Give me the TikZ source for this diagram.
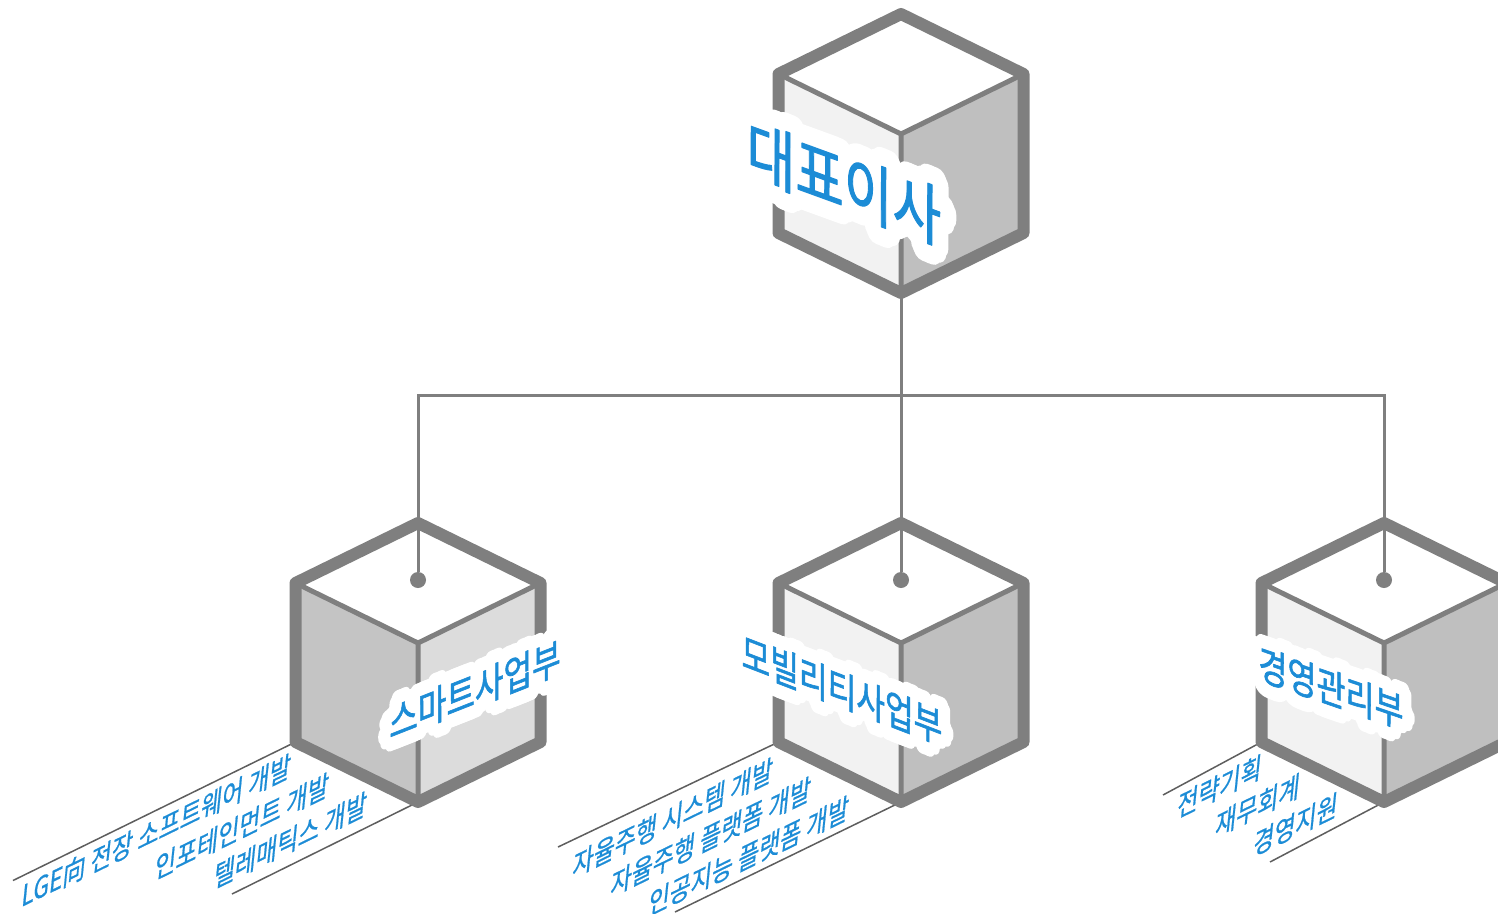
\documentclass[tikz,border=0pt]{standalone}
\usepackage{fontspec}
\setmainfont{Noto Sans CJK KR}
\newfontfamily\labelfont[FakeBold=1.6]{Noto Sans CJK KR}
\newfontfamily\halofont[FakeBold=36]{Noto Sans CJK KR}
\newfontfamily\notefont[FakeBold=0.8]{Noto Sans CJK KR}
\usepackage{xcolor}
\usetikzlibrary{backgrounds,calc}
\definecolor{OrgLine}{HTML}{7F7F7F}
\definecolor{OrgBlue}{HTML}{1C8CD6}
\definecolor{NoteLine}{HTML}{5E5E5E}
\definecolor{FaceLight}{HTML}{F2F2F2}
\definecolor{FaceDark}{HTML}{BFBFBF}
\definecolor{FaceMid}{HTML}{DCDCDC}
\definecolor{FaceShade}{HTML}{C4C4C4}
\newcommand{\CubeW}{2.45}
\newcommand{\CubeD}{1.20}
\newcommand{\CubeH}{3.18}
\tikzset{
  every picture/.style = {line join=round},
  cube edge/.style = {draw=OrgLine, line width=0.24cm, line join=round},
  cube seam/.style = {draw=OrgLine, line width=0.10cm},
  link/.style = {draw=OrgLine, line width=0.06cm, line join=miter},
  hub/.style = {circle, fill=OrgLine, inner sep=0pt, minimum size=0.32cm},
  cube label/.style = {text=OrgBlue, inner sep=0pt},
  halo/.style = {inner sep=0pt, text=white},
  big label/.style = {font=\fontsize{32}{32}\selectfont, yscale=1.12},
  dept label/.style = {font=\fontsize{19}{19}\selectfont, yscale=1.15},
  note line/.style = {draw=NoteLine, line width=0.03cm},
  note text/.style = {
    text=OrgBlue,
    font=\notefont\fontsize{14.5}{16}\selectfont,
    inner sep=0pt,
    anchor=base east,
    rotate=26,
    xslant=0.62
  },
}
% one box of the chart, given by its top corner
\newcommand{\OrgCube}[4]{%
  \begin{scope}[shift={#2}]
    \coordinate (#1-top) at (0,0);
    \coordinate (#1-ul) at (-\CubeW,-\CubeD);
    \coordinate (#1-ur) at (\CubeW,-\CubeD);
    \coordinate (#1-mid) at (0,-2*\CubeD);
    \coordinate (#1-ll) at (-\CubeW,-\CubeD-\CubeH);
    \coordinate (#1-lr) at (\CubeW,-\CubeD-\CubeH);
    \coordinate (#1-bot) at (0,-2*\CubeD-\CubeH);
  \end{scope}
  \fill[white] (#1-top) -- (#1-ur) -- (#1-mid) -- (#1-ul) -- cycle;
  \fill[#3] (#1-ul) -- (#1-mid) -- (#1-bot) -- (#1-ll) -- cycle;
  \fill[#4] (#1-mid) -- (#1-ur) -- (#1-lr) -- (#1-bot) -- cycle;
  \draw[cube seam] (#1-ul) -- (#1-mid) -- (#1-ur) (#1-mid) -- (#1-bot);
  \draw[cube edge] (#1-top) -- (#1-ur) -- (#1-lr) -- (#1-bot) -- (#1-ll) -- (#1-ul) -- cycle;
}
% tilted label with a white rim behind it
\newcommand{\CubeLabel}[6]{%
  \begin{scope}[line join=round, line cap=round]
    \foreach \a in {0,45,...,315} {
      \node[halo, rotate=#3, xslant=#4, #6] (#1-rim-\a) at ($#2+(\a:0.14)$) {\halofont #5};
    }
  \end{scope}
  \node[cube label, rotate=#3, xslant=#4, #6] (#1) at #2 {\labelfont #5};
}

\begin{document}
\begin{tikzpicture}[x=1cm,y=1cm]
  \useasboundingbox (0,0) rectangle (29.96,-18.26);

  \OrgCube{ceo}{(18.02,-0.28)}{FaceLight}{FaceDark}
  \OrgCube{smart}{(8.36,-10.46)}{FaceShade}{FaceMid}
  \OrgCube{mob}{(18.02,-10.46)}{FaceLight}{FaceDark}
  \OrgCube{mgmt}{(27.68,-10.46)}{FaceLight}{FaceDark}

  \node[hub] (smart-hub) at (8.36,-11.60) {};
  \node[hub] (mob-hub) at (18.02,-11.60) {};
  \node[hub] (mgmt-hub) at (27.68,-11.60) {};
  \coordinate (bus) at (18.02,-7.90);

  \draw[link] (ceo-bot) -- (mob-hub);
  \draw[link] (smart-hub) |- (bus) -| (mgmt-hub);

  \CubeLabel{ceo-label}{(16.88,-3.66)}{-20}{-0.36}{대표이사}{big label}
  \CubeLabel{smart-label}{(9.50,-13.80)}{21.5}{0.39}{스마트사업부}{dept label}
  \CubeLabel{mob-label}{(16.84,-13.80)}{-21}{-0.38}{모빌리티사업부}{dept label}
  \CubeLabel{mgmt-label}{(26.62,-13.76)}{-19}{-0.34}{경영관리부}{dept label}

  % tasks of each department, laid on the floor
  \node[note text] (smart-n1) at (5.80,-15.52) {LGE向 전장 소프트웨어 개발};
  \node[note text] (smart-n2) at ($(smart-n1.base east)+(0.76,-0.38)$) {인포테인먼트 개발};
  \node[note text] (smart-n3) at ($(smart-n2.base east)+(0.76,-0.38)$) {텔레매틱스 개발};

  \node[note text] (mob-n1) at (15.44,-15.60) {자율주행 시스템 개발};
  \node[note text] (mob-n2) at ($(mob-n1.base east)+(0.76,-0.38)$) {자율주행 플랫폼 개발};
  \node[note text] (mob-n3) at ($(mob-n2.base east)+(0.76,-0.38)$) {인공지능 플랫폼 개발};

  \node[note text] (mgmt-n1) at (25.22,-15.54) {전략기획};
  \node[note text] (mgmt-n2) at ($(mgmt-n1.base east)+(0.76,-0.38)$) {재무회계};
  \node[note text] (mgmt-n3) at ($(mgmt-n2.base east)+(0.76,-0.38)$) {경영지원};

  \begin{scope}[on background layer]
    \draw[note line] (smart-ll) -- ++(-5.65,-2.77);
    \draw[note line] (smart-bot) -- ++(-3.72,-1.84);
    \draw[note line] (mob-ll) -- ++(-4.41,-2.10);
    \draw[note line] (mob-bot) -- ++(-4.52,-2.20);
    \draw[note line] (mgmt-ll) -- ++(-1.97,-1.06);
    \draw[note line] (mgmt-bot) -- ++(-2.28,-1.20);
  \end{scope}
\end{tikzpicture}
\end{document}
